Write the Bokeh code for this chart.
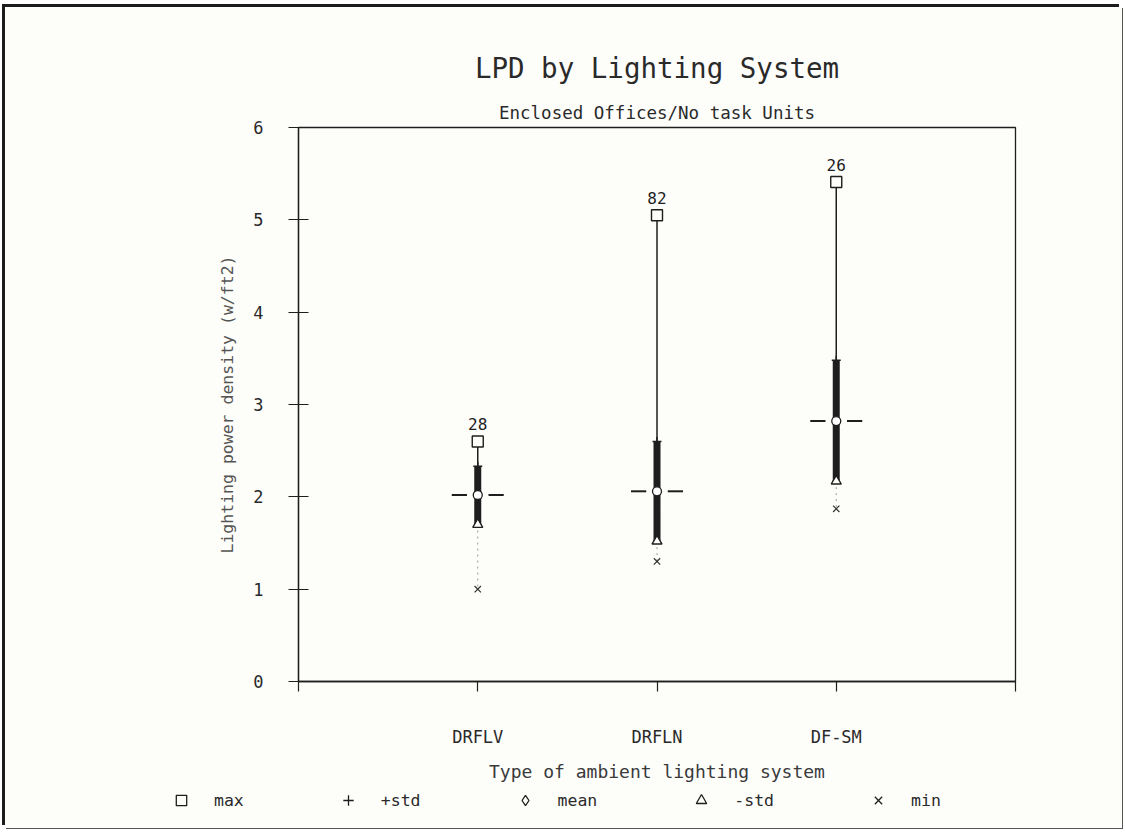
from bokeh.plotting import figure
from bokeh.layouts import column
from bokeh.models import ColumnDataSource, FixedTicker, Legend, LegendItem, Title
from bokeh.embed import file_html
from bokeh.resources import INLINE
from bokeh.core.properties import value

# ---------------- data ----------------
systems = ["DRFLV", "DRFLN", "DF-SM"]
counts = [28, 82, 26]
max_vals = [2.60, 5.05, 5.41]
plus_std = [2.33, 2.60, 3.48]
means = [2.02, 2.06, 2.82]
minus_std = [1.70, 1.52, 2.17]
min_vals = [1.00, 1.30, 1.87]
y_ticks = [0, 1, 2, 3, 4, 5, 6]
legend_labels = ["max", "+std", "mean", "-std", "min"]
legend_markers = ["square", "cross", "diamond", "triangle", "x"]

title_text = "LPD by Lighting System"
subtitle_text = "Enclosed Offices/No task Units"
x_title = "Type of ambient lighting system"
y_title = "Lighting power density (w/ft2)"

# ---------------- layout constants ----------------
FONT = "DejaVu Sans Mono"
INK = "#1e1e1e"
TXT = "#2a2a2a"
PAPER = "#fdfdfa"
W = 1117
H_MAIN, H_LEG = 781, 40
B_LEFT, B_RIGHT, B_TOP, B_BOTTOM = 293, 107, 120, 107

pos = list(range(1, len(systems) + 1))
half = 0.145
gap = 0.06
src = ColumnDataSource(dict(
    x=pos, mx=max_vals, ps=plus_std, mean=means, ms=minus_std, mn=min_vals,
    n=[str(c) for c in counts],
    l0=[v - half for v in pos], l1=[v - gap for v in pos],
    r0=[v + gap for v in pos], r1=[v + half for v in pos],
))

p = figure(width=W, height=H_MAIN, x_range=(0, len(systems) + 1),
           y_range=(min(y_ticks), max(y_ticks)),
           output_backend="svg", toolbar_location=None, tools="",
           min_border_left=B_LEFT, min_border_right=B_RIGHT,
           min_border_top=B_TOP, min_border_bottom=B_BOTTOM,
           background_fill_color=PAPER, border_fill_color=PAPER)

p.outline_line_color = INK
p.outline_line_width = 1.3
p.xgrid.visible = False
p.ygrid.visible = False

# whiskers / bars
p.segment(x0="x", y0="mx", x1="x", y1="ps", source=src, line_color=INK, line_width=1.5)
p.segment(x0="x", y0="ps", x1="x", y1="ms", source=src, line_color=INK, line_width=7)
p.segment(x0="x", y0="ms", x1="x", y1="mn", source=src, line_color="#9a9a9a",
          line_width=1, line_dash="2 4")
p.segment(x0="l0", y0="mean", x1="l1", y1="mean", source=src, line_color=INK, line_width=2)
p.segment(x0="r0", y0="mean", x1="r1", y1="mean", source=src, line_color=INK, line_width=2)

p.scatter(x="x", y="mx", source=src, marker="square", size=11,
          fill_color=PAPER, line_color=INK, line_width=1.4)
p.scatter(x="x", y="ps", source=src, marker="cross", size=9,
          line_color=INK, line_width=1.5)
p.scatter(x="x", y="mean", source=src, marker="circle", size=9,
          fill_color="white", line_color=INK, line_width=1.3)
p.scatter(x="x", y="ms", source=src, marker="triangle", size=10,
          fill_color=PAPER, line_color=INK, line_width=1.4)
p.scatter(x="x", y="mn", source=src, marker="x", size=9,
          line_color="#333333", line_width=1.2)

p.text(x="x", y="mx", text="n", source=src, text_font=value(FONT), text_font_size="16px",
       text_align="center", text_baseline="middle", y_offset=-17, text_color=INK)

# axes
p.yaxis.ticker = FixedTicker(ticks=y_ticks)
p.yaxis.minor_tick_line_color = None
p.yaxis.major_tick_in = 10
p.yaxis.major_tick_out = 10
p.yaxis.major_label_standoff = 25
p.yaxis.axis_label = y_title
p.yaxis.axis_label_standoff = 13

p.xaxis.ticker = FixedTicker(ticks=list(range(0, len(systems) + 2)))
overrides = {0: "", len(systems) + 1: ""}
for i, s in zip(pos, systems):
    overrides[i] = s
p.xaxis.major_label_overrides = overrides
p.xaxis.minor_tick_line_color = None
p.xaxis.major_tick_in = 0
p.xaxis.major_tick_out = 10
p.xaxis.major_label_standoff = 35
p.xaxis.axis_label = x_title
p.xaxis.axis_label_standoff = 11

for ax in (p.xaxis[0], p.yaxis[0]):
    ax.axis_line_color = INK
    ax.axis_line_width = 1.3
    ax.major_tick_line_color = INK
    ax.major_tick_line_width = 1.2
    ax.major_label_text_font = FONT
    ax.major_label_text_font_size = "17px"
    ax.major_label_text_color = TXT
    ax.axis_label_text_font = FONT
    ax.axis_label_text_font_size = "18px"
    ax.axis_label_text_font_style = "normal"
    ax.axis_label_text_color = "#3a3a3a"
p.yaxis.axis_label_text_color = "#555555"
p.yaxis.axis_label_text_font_size = "16.5px"

# titles (first added sits nearest the frame)
p.add_layout(Title(text=subtitle_text, align="center", text_font=FONT,
                   text_font_size="17.5px", text_font_style="normal",
                   text_color=TXT, standoff=10), "above")
p.add_layout(Title(text=title_text, align="center", text_font=FONT,
                   text_font_size="27.5px", text_font_style="normal",
                   text_color=TXT, standoff=24), "above")

# legend strip below the chart (its frame is not aligned with the chart's)
q = figure(width=W, height=H_LEG, x_range=(0, 1), y_range=(0, 1),
           x_axis_type=None, y_axis_type=None,
           output_backend="svg", toolbar_location=None, tools="",
           min_border=0, background_fill_color=PAPER, border_fill_color=PAPER)
q.frame_align = False
q.outline_line_color = None
q.xgrid.visible = False
q.ygrid.visible = False
nan = float("nan")
leg_renderers = []
for mk in legend_markers:
    rr = q.scatter(x=[nan], y=[nan], marker=mk, size=10,
                   fill_color=PAPER, line_color=INK, line_width=1.3)
    leg_renderers.append(rr)
legend = Legend(items=[LegendItem(label=lab, renderers=[rr])
                       for lab, rr in zip(legend_labels, leg_renderers)],
                location=(163, 15), orientation="horizontal",
                glyph_width=26, glyph_height=26, label_standoff=20,
                padding=0, margin=0, spacing=91,
                border_line_alpha=0, background_fill_alpha=0,
                label_text_font=FONT, label_text_font_size="16.5px",
                label_text_color=TXT)
q.add_layout(legend, "center")

page = column(p, q, spacing=0,
              styles={"margin-left": "5px", "margin-top": "7px",
                      "box-shadow": "-3px -3px 0 0 #1c1c1c, 1px 1px 0 0 #555555"})

open("out.html", "w").write(file_html(page, INLINE))
